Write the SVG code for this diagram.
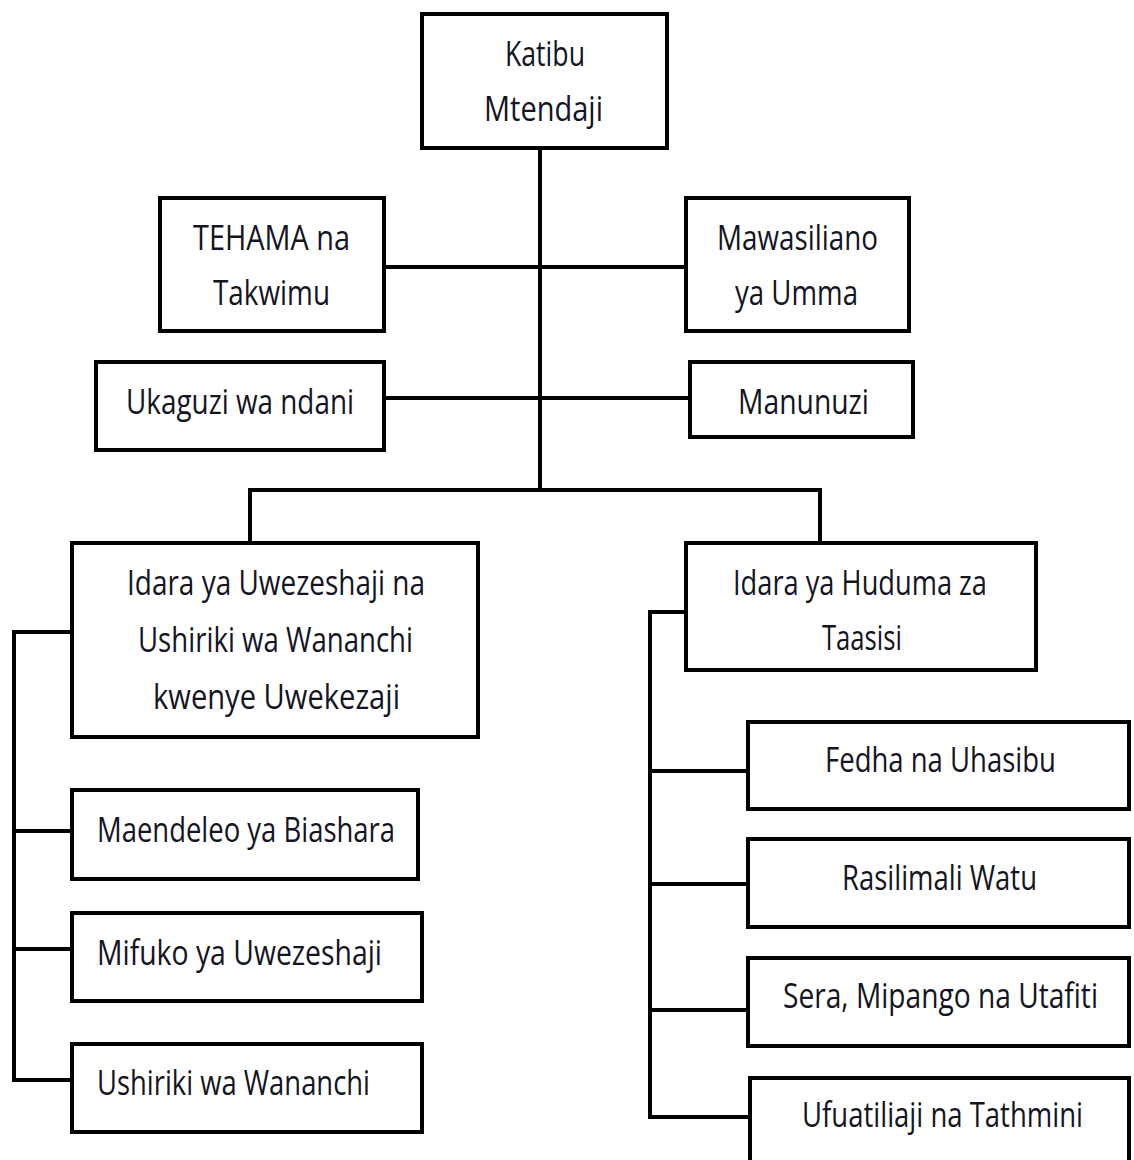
<svg xmlns="http://www.w3.org/2000/svg" width="1134" height="1160" viewBox="0 0 1134 1160">
<style>
rect.box{fill:#fff;stroke:#000;stroke-width:4}
.conn line,.conn polyline{stroke:#000;stroke-width:4;fill:none}
text{font-family:"Open Sans","Noto Sans","Liberation Sans",sans-serif;font-size:34px;fill:#141423}
</style>
<rect width="1134" height="1160" fill="#fff"/>
<g class="conn" id="connectors">
<line x1="540" y1="148" x2="540" y2="490"/>
<line x1="384" y1="267" x2="686" y2="267"/>
<line x1="384" y1="398" x2="690" y2="398"/>
<polyline points="250,543 250,490 820,490 820,543"/>
<polyline points="72,632 14,632 14,1080 72,1080"/>
<line x1="14" y1="831" x2="72" y2="831"/>
<line x1="14" y1="949" x2="72" y2="949"/>
<polyline points="686,612 650,612 650,1117 749,1117"/>
<line x1="650" y1="771" x2="748" y2="771"/>
<line x1="650" y1="884" x2="748" y2="884"/>
<line x1="650" y1="1010" x2="748" y2="1010"/>
</g>
<g id="n-katibu"><rect class="box" x="422" y="14" width="245" height="134"/>
<text x="505" y="66" textLength="80" lengthAdjust="spacingAndGlyphs">Katibu</text>
<text x="484" y="121" textLength="119" lengthAdjust="spacingAndGlyphs">Mtendaji</text></g>
<g id="n-tehama"><rect class="box" x="160" y="198" width="224" height="133"/>
<text x="193" y="250" textLength="157" lengthAdjust="spacingAndGlyphs">TEHAMA na</text>
<text x="213" y="305" textLength="117" lengthAdjust="spacingAndGlyphs">Takwimu</text></g>
<g id="n-mawasiliano"><rect class="box" x="686" y="198" width="223" height="133"/>
<text x="717" y="250" textLength="161" lengthAdjust="spacingAndGlyphs">Mawasiliano</text>
<text x="735" y="305" textLength="123" lengthAdjust="spacingAndGlyphs">ya Umma</text></g>
<g id="n-ukaguzi"><rect class="box" x="96" y="362" width="288" height="88"/>
<text x="126" y="414" textLength="228" lengthAdjust="spacingAndGlyphs">Ukaguzi wa ndani</text></g>
<g id="n-manunuzi"><rect class="box" x="690" y="362" width="223" height="75"/>
<text x="738" y="414" textLength="131" lengthAdjust="spacingAndGlyphs">Manunuzi</text></g>
<g id="n-uwezeshaji"><rect class="box" x="72" y="543" width="406" height="194"/>
<text x="127" y="595" textLength="298" lengthAdjust="spacingAndGlyphs">Idara ya Uwezeshaji na</text>
<text x="138" y="652" textLength="275" lengthAdjust="spacingAndGlyphs">Ushiriki wa Wananchi</text>
<text x="153" y="709" textLength="247" lengthAdjust="spacingAndGlyphs">kwenye Uwekezaji</text></g>
<g id="n-huduma"><rect class="box" x="686" y="543" width="350" height="127"/>
<text x="733" y="595" textLength="254" lengthAdjust="spacingAndGlyphs">Idara ya Huduma za</text>
<text x="822" y="650" textLength="80" lengthAdjust="spacingAndGlyphs">Taasisi</text></g>
<g id="n-maendeleo"><rect class="box" x="72" y="790" width="346" height="89"/>
<text x="97" y="842" textLength="298" lengthAdjust="spacingAndGlyphs">Maendeleo ya Biashara</text></g>
<g id="n-mifuko"><rect class="box" x="72" y="913" width="350" height="88"/>
<text x="97" y="965" textLength="285" lengthAdjust="spacingAndGlyphs">Mifuko ya Uwezeshaji</text></g>
<g id="n-ushiriki"><rect class="box" x="72" y="1044" width="350" height="88"/>
<text x="97" y="1095" textLength="273" lengthAdjust="spacingAndGlyphs">Ushiriki wa Wananchi</text></g>
<g id="n-fedha"><rect class="box" x="748" y="722" width="381" height="87"/>
<text x="825" y="772" textLength="231" lengthAdjust="spacingAndGlyphs">Fedha na Uhasibu</text></g>
<g id="n-rasilimali"><rect class="box" x="748" y="839" width="381" height="88"/>
<text x="842" y="890" textLength="195" lengthAdjust="spacingAndGlyphs">Rasilimali Watu</text></g>
<g id="n-sera"><rect class="box" x="748" y="958" width="381" height="88"/>
<text x="783" y="1008" textLength="315" lengthAdjust="spacingAndGlyphs">Sera, Mipango na Utafiti</text></g>
<g id="n-ufuatiliaji"><rect class="box" x="750" y="1078" width="379" height="100"/>
<text x="802" y="1127" textLength="281" lengthAdjust="spacingAndGlyphs">Ufuatiliaji na Tathmini</text></g>
</svg>
